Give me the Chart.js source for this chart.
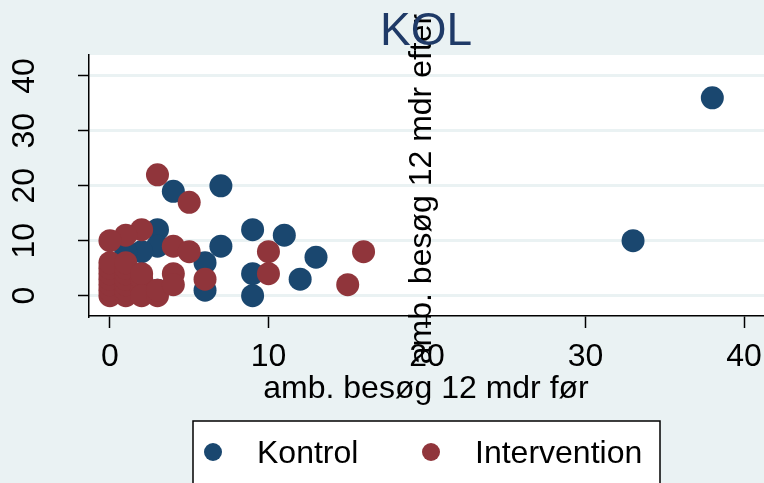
<!DOCTYPE html>
<html>
<head>
<meta charset="utf-8">
<script src="https://cdn.jsdelivr.net/npm/chart.js@4"></script>
<style>
html,body{margin:0;padding:0;background:#eaf2f3;}
</style>
</head>
<body>
<canvas id="kol" width="764" height="483"></canvas>
<script>
// data
var kontrolX = [38, 33, 7, 4, 3, 9, 11, 7, 3, 2, 1, 6, 13, 9, 12, 6, 9, 3];
var kontrolY = [36, 10, 20, 19, 12, 12, 11, 9, 9, 8, 8, 6, 7, 4, 3, 1, 0, 1];
var interventionX = [3, 5, 2, 1, 0, 4, 5, 10, 16, 10, 6, 15,
  0, 0, 0, 0, 0, 0, 0, 1, 1, 1, 1, 1, 1, 1, 2, 2, 2, 2, 2, 3, 3, 4, 4];
var interventionY = [22, 17, 12, 11, 10, 9, 8, 8, 8, 4, 3, 2,
  0, 1, 2, 3, 4, 5, 6, 0, 1, 2, 3, 4, 5, 6, 1, 2, 3, 4, 0, 0, 1, 4, 2];
var xTicks = [0, 10, 20, 30, 40];
var yTicks = [0, 10, 20, 30, 40];
var seriesNames = ['Kontrol', 'Intervention'];
var seriesColors = ['#1a476f', '#90353b'];
var chartTitle = 'KOL';
var xTitle = 'amb. besøg 12 mdr før';
var yTitle = 'amb. besøg 12 mdr efter';

var FONT = '"Liberation Sans", Arial, sans-serif';

function pts(xs, ys) {
  var out = [];
  for (var i = 0; i < xs.length; i++) out.push({x: xs[i], y: ys[i]});
  return out;
}

var stataDeco = {
  id: 'stataDeco',
  // plot region runs right up to the canvas edge
  afterLayout: function(chart) {
    var a = chart.chartArea, xs = chart.scales.x;
    a.right = chart.width;
    a.width = a.right - a.left;
    xs.right = a.right;
    xs.width = a.width;
    xs.configure();
  },
  beforeDraw: function(chart) {
    var c = chart.ctx, a = chart.chartArea;
    c.save();
    c.fillStyle = '#eaf2f3';
    c.fillRect(0, 0, chart.width, chart.height);
    c.fillStyle = '#ffffff';
    c.fillRect(a.left, a.top, a.right - a.left, a.bottom - a.top);
    c.restore();
  },
  afterDraw: function(chart) {
    var c = chart.ctx;
    var xs = chart.scales.x, ys = chart.scales.y;
    c.save();
    c.fillStyle = '#000';
    c.font = '32px ' + FONT;
    c.textAlign = 'center';
    c.textBaseline = 'alphabetic';
    // x tick labels
    xTicks.forEach(function(v) {
      c.fillText(String(v), xs.getPixelForValue(v), 366);
    });
    // y tick labels, rotated
    yTicks.forEach(function(v) {
      var py = ys.getPixelForValue(v);
      c.save();
      c.translate(34, py);
      c.rotate(-Math.PI / 2);
      c.fillText(String(v), 0, 0);
      c.restore();
    });
    // x title
    c.fillText(xTitle, 426, 398);
    // y title (sits in the middle of the plot)
    c.save();
    c.translate(431, 189);
    c.rotate(-Math.PI / 2);
    c.fillText(yTitle, 0, 0);
    c.restore();
    // main title
    c.fillStyle = '#1f3a67';
    c.font = '46px ' + FONT;
    c.fillText(chartTitle, 426, 45);
    // legend
    c.fillStyle = '#ffffff';
    c.fillRect(193, 421, 467, 80);
    c.strokeStyle = '#000';
    c.lineWidth = 1.5;
    c.strokeRect(193, 421, 467, 80);
    var lx = [213, 431];
    c.font = '32px ' + FONT;
    c.textAlign = 'left';
    for (var i = 0; i < seriesNames.length; i++) {
      c.fillStyle = seriesColors[i];
      c.beginPath();
      c.arc(lx[i], 452, 9, 0, Math.PI * 2);
      c.fill();
      c.fillStyle = '#000';
      c.fillText(seriesNames[i], lx[i] + 44, 463);
    }
    c.restore();
  }
};

new Chart(document.getElementById('kol'), {
  type: 'scatter',
  data: {
    datasets: [
      {label: seriesNames[0], data: pts(kontrolX, kontrolY), backgroundColor: seriesColors[0],
       pointRadius: 11.5, pointHoverRadius: 11.5, borderWidth: 0, order: 2},
      {label: seriesNames[1], data: pts(interventionX, interventionY), backgroundColor: seriesColors[1],
       pointRadius: 11.5, pointHoverRadius: 11.5, borderWidth: 0, order: 1}
    ]
  },
  options: {
    responsive: false,
    animation: false,
    devicePixelRatio: 1,
    layout: {padding: {top: 55, right: 0, bottom: 0, left: 0}},
    plugins: {legend: {display: false}, title: {display: false}, tooltip: {enabled: false}},
    scales: {
      x: {
        type: 'linear', min: -1.32, max: 41.26,
        afterBuildTicks: function(s) { s.ticks = xTicks.map(function(v) { return {value: v}; }); },
        afterFit: function(s) { s.height = 167; },
        grid: {drawOnChartArea: false, drawTicks: true, tickLength: 12, tickColor: '#000', tickWidth: 1.5},
        border: {color: '#000', width: 1.5},
        ticks: {display: false}
      },
      y: {
        type: 'linear', min: -3.7, max: 43.8,
        afterBuildTicks: function(s) { s.ticks = yTicks.map(function(v) { return {value: v}; }); },
        afterFit: function(s) { s.width = 89; },
        grid: {color: '#eaf2f3', lineWidth: 3, drawTicks: true, tickLength: 11, tickColor: '#000', tickWidth: 1.5},
        border: {color: '#000', width: 1.5},
        ticks: {display: false}
      }
    }
  },
  plugins: [stataDeco]
});
</script>
</body>
</html>
